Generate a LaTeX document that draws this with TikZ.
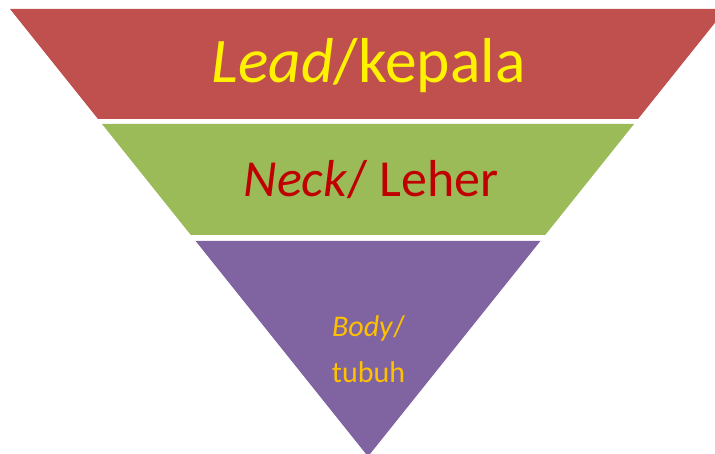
\documentclass[tikz,border=0pt]{standalone}
\usepackage{fontspec}
\setmainfont{Carlito}
\definecolor{leadred}{HTML}{C0504D}
\definecolor{neckgreen}{HTML}{9BBB59}
\definecolor{bodypurple}{HTML}{8064A2}
\definecolor{neckfont}{HTML}{C00000}
\definecolor{bodyfont}{HTML}{FFC000}
\begin{document}
\begin{tikzpicture}[x=1pt,y=-1pt]
    \useasboundingbox (0,0) rectangle (715,454);
    \clip (0,0) rectangle (715,454);
    % bands of the funnel
    \fill[leadred] (10,9) -- (726,9) -- (638,119) -- (98,119) -- cycle;
    \fill[neckgreen] (102,124) -- (634,124) -- (545.2,235) -- (190.8,235) -- cycle;
    \fill[bodypurple] (195.6,241) -- (540.4,241) -- (368,456.5) -- cycle;
    % labels
    \node[anchor=base,yellow,font=\fontsize{63.5}{63.5}\selectfont] (lead) at (368.5,83) {\textit{Lead}/kepala};
    \node[anchor=base,neckfont,font=\fontsize{52}{52}\selectfont] (neck) at (371,197) {\textit{Neck}/ Leher};
    \node[anchor=base,bodyfont,font=\fontsize{30}{30}\selectfont] (body) at (368.5,337) {\textit{Body}/};
    \node[anchor=base,bodyfont,font=\fontsize{30}{30}\selectfont] (tubuh) at (368.5,382) {tubuh};
\end{tikzpicture}
\end{document}
